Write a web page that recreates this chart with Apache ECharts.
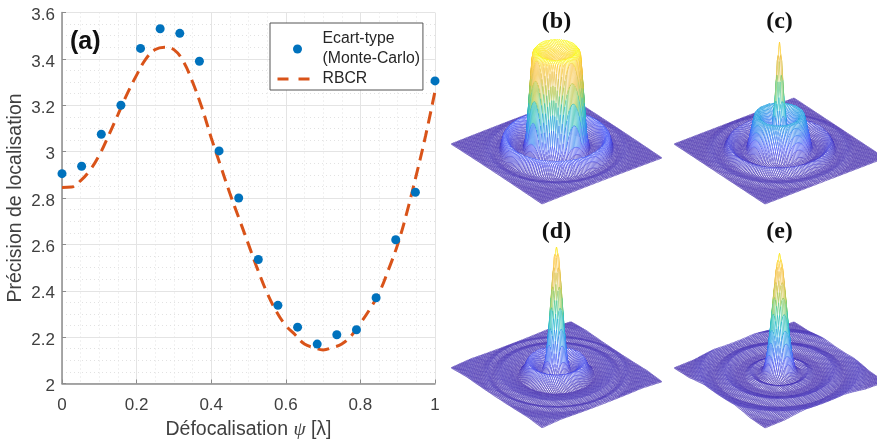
<!DOCTYPE html>
<html>
<head>
<meta charset="utf-8">
<style>html,body{margin:0;padding:0;background:#fff}#c{width:877px;height:441px}</style>
<script src="https://cdn.jsdelivr.net/npm/echarts@6/dist/echarts.min.js"></script>
</head>
<body>
<div id="c"></div>
<script>
// Panel (a) values
const monteCarloX = [0,0.0526,0.1053,0.1579,0.2105,0.2632,0.3158,0.3684,0.4211,0.4737,0.5263,0.5789,0.6316,0.6842,0.7368,0.7895,0.8421,0.8947,0.9474,1];
const monteCarloY = [2.905,2.937,3.075,3.2,3.445,3.53,3.51,3.39,3.003,2.8,2.535,2.337,2.243,2.17,2.21,2.232,2.37,2.62,2.825,3.305];
const rbcrX = [0,0.025,0.05,0.075,0.1,0.125,0.15,0.175,0.2,0.225,0.25,0.275,0.3,0.325,0.35,0.375,0.4,0.425,0.45,0.475,0.5,0.525,0.55,0.575,0.6,0.625,0.65,0.675,0.7,0.725,0.75,0.775,0.8,0.825,0.85,0.875,0.9,0.925,0.95,0.975,1];
const rbcrY = [2.845,2.847,2.875,2.92,2.985,3.07,3.16,3.25,3.33,3.4,3.44,3.45,3.44,3.39,3.3,3.19,3.06,2.94,2.82,2.71,2.6,2.49,2.39,2.31,2.25,2.21,2.17,2.155,2.145,2.155,2.17,2.205,2.26,2.32,2.39,2.49,2.6,2.74,2.9,3.07,3.26];

// Panels (b)-(e): radial profile of each surface
const radiusB = [0,0.2,0.28,0.32,0.36,0.4,0.44,0.5,0.6,0.67,0.71,0.75,0.82,0.9,1,1.45];
const heightB = [0.7,0.74,0.79,0.76,0.45,0.12,0.015,0.01,0.05,0.12,0.1,0.012,0.004,0.012,0.004,0];
const radiusC = [0,0.03,0.06,0.1,0.14,0.2,0.28,0.33,0.38,0.43,0.5,0.6,0.68,0.74,0.8,0.9,1,1.45];
const heightC = [0.85,0.7,0.4,0.18,0.14,0.2,0.28,0.28,0.15,0.02,0.01,0.03,0.07,0.01,0.005,0.012,0,0];
const radiusD = [0,0.03,0.06,0.1,0.14,0.18,0.25,0.32,0.38,0.43,0.5,0.55,0.65,0.75,0.85,0.92,1,1.2,1.45];
const heightD = [1,0.92,0.7,0.38,0.13,0.04,0.05,0.09,0.11,0.05,0,0.006,0.014,0.02,0.006,0.016,0.006,0.012,0];
const radiusE = [0,0.04,0.08,0.12,0.16,0.2,0.24,0.3,0.38,0.46,0.58,0.72,0.86,1.05,1.2,1.45];
const heightE = [0.95,0.85,0.62,0.37,0.18,0.06,0.02,0.006,0.026,0.004,0.004,0.026,0.004,0.026,0.004,0];
const panelLabels = ['(b)','(c)','(d)','(e)'];

const axisGray = '#8c8c8c', textGray = '#404040';
const MESH = 100;
const UNIT_U = [45.5,-30], UNIT_V = [60,23], HEIGHT_PX = 128;
const parula = [[62,38,168],[72,82,244],[42,125,240],[18,177,214],[55,200,151],[171,199,57],[230,186,64],[254,195,59],[249,251,21]];
function parulaColor(t){
  t = Math.max(0,Math.min(1,t))*(parula.length-1);
  const i = Math.min(parula.length-2,Math.floor(t)), f = t-i, a = parula[i], b = parula[i+1];
  return 'rgb('+[0,1,2].map(k=>Math.round(a[k]+(b[k]-a[k])*f)).join(',')+')';
}
function profileAt(rs,hs,r){
  for(let i=1;i<rs.length;i++){ if(r<=rs[i]){ const f=(r-rs[i-1])/(rs[i]-rs[i-1]); return hs[i-1]+(hs[i]-hs[i-1])*f; } }
  return hs[hs.length-1];
}
function buildGrid(rs,hs){
  const g=[],n=MESH;
  for(let i=0;i<=n;i++){ g.push([]); for(let j=0;j<=n;j++){ g[i].push(profileAt(rs,hs,Math.hypot(-1+2*i/n,-1+2*j/n))); } }
  return g;
}
function surfaceSeries(idx,rs,hs){
  const g = buildGrid(rs,hs), peak = Math.max(...hs), n = MESH, data = [];
  for(let i=0;i<n;i++) for(let j=n-1;j>=0;j--) data.push([i,j]);
  const proj=(api,i,j)=>{
    const u=-1+2*i/n, v=-1+2*j/n;
    return api.coord([u*UNIT_U[0]+v*UNIT_V[0], u*UNIT_U[1]+v*UNIT_V[1]+g[i][j]*HEIGHT_PX]);
  };
  return {
    type:'custom', xAxisIndex:idx+1, yAxisIndex:idx+1, silent:true, animation:false, progressive:0,
    clip:false, data, encode:{x:0,y:1}, legendHoverLink:false,
    renderItem(params,api){
      const i=api.value(0), j=api.value(1);
      const z=(g[i][j]+g[i+1][j]+g[i][j+1]+g[i+1][j+1])/4;
      return {type:'polygon',shape:{points:[proj(api,i,j),proj(api,i+1,j),proj(api,i+1,j+1),proj(api,i,j+1)]},
        style:{fill:'#fff',stroke:parulaColor(z/peak),lineWidth:0.5}};
    }
  };
}
const centers=[[556.5,151],[779.5,151],[556.5,375],[779.5,375]];
const grids=[{left:62,top:12.5,width:373,height:371,outerBoundsMode:'none'}], xAxes=[{
  type:'value',min:0,max:1,interval:0.2,gridIndex:0,
  name:'Défocalisation {p|ψ} [λ]',nameLocation:'middle',nameGap:36,
  nameTextStyle:{fontFamily:'Liberation Sans',fontSize:19.5,color:textGray,rich:{p:{fontFamily:'Liberation Serif',fontStyle:'italic',fontSize:19.5,color:textGray}}},
  axisLine:{lineStyle:{color:axisGray,width:1.5}},axisTick:{inside:true,length:4,lineStyle:{color:axisGray}},
  axisLabel:{fontFamily:'Liberation Sans',fontSize:17,color:textGray,margin:13,hideOverlap:false},
  splitLine:{show:true,lineStyle:{color:'#e4e4e4',width:1}},
  minorTick:{show:false,splitNumber:4},minorSplitLine:{show:true,lineStyle:{color:'#e2e2e2',type:[1,3],width:1}}
}], yAxes=[{
  type:'value',min:2,max:3.6,interval:0.2,gridIndex:0,
  name:'Précision de localisation',nameLocation:'middle',nameGap:36,
  nameTextStyle:{fontFamily:'Liberation Sans',fontSize:19.5,color:textGray},
  axisLine:{show:true,lineStyle:{color:axisGray,width:1.5}},axisTick:{show:true,inside:true,length:4,lineStyle:{color:axisGray}},
  axisLabel:{fontFamily:'Liberation Sans',fontSize:17,color:textGray,margin:7,verticalAlign:'top',lineHeight:6,hideOverlap:false},
  splitLine:{show:true,lineStyle:{color:'#e4e4e4',width:1}},
  minorTick:{show:false,splitNumber:4},minorSplitLine:{show:true,lineStyle:{color:'#e2e2e2',type:[1,3],width:1}}
}];
centers.forEach(c=>{
  grids.push({left:c[0]-115,top:c[1]-140,width:230,height:210,outerBoundsMode:'none'});
  xAxes.push({type:'value',gridIndex:grids.length-1,min:-115,max:115,show:false});
  yAxes.push({type:'value',gridIndex:grids.length-1,min:-70,max:140,show:false});
});
const titles=[{text:'(a)',left:70,top:30,textStyle:{fontFamily:'Liberation Sans',fontWeight:'bold',fontSize:25,color:'#111'},padding:0}];
panelLabels.forEach((t,i)=>titles.push({text:t,left:centers[i][0],top:i<2?10:220,textAlign:'center',padding:0,
  textStyle:{fontFamily:'Liberation Serif',fontWeight:'bold',fontSize:24,color:'#111'}}));

const chart=echarts.init(document.getElementById('c'),null,{renderer:'canvas'});
chart.setOption({
  animation:false,backgroundColor:'#fff',title:titles,grid:grids,xAxis:xAxes,yAxis:yAxes,
  legend:{data:[{name:'Ecart-type\n(Monte-Carlo)'},{name:'RBCR',itemStyle:{color:'transparent',opacity:0},lineStyle:{color:'#d95319',width:3,type:[11,10]}}],
    orient:'vertical',left:270,top:23,z:20,
    backgroundColor:'#fff',borderColor:'#555',borderWidth:1,borderRadius:0,padding:[6,3,1,6],itemGap:0,itemWidth:40,itemHeight:9,
    textStyle:{fontFamily:'Liberation Sans',fontSize:15.8,color:'#262626',lineHeight:20}},
  series:[
    surfaceSeries(0,radiusB,heightB),surfaceSeries(1,radiusC,heightC),surfaceSeries(2,radiusD,heightD),surfaceSeries(3,radiusE,heightE),
    {type:'line',name:'RBCR',xAxisIndex:0,yAxisIndex:0,data:rbcrX.map((x,i)=>[x,rbcrY[i]]),smooth:0.4,showSymbol:false,symbol:'none',z:5,
      lineStyle:{color:'#d95319',width:3,type:[12,7]},itemStyle:{color:'#d95319'}},
    {type:'scatter',name:'Ecart-type\n(Monte-Carlo)',xAxisIndex:0,yAxisIndex:0,data:monteCarloX.map((x,i)=>[x,monteCarloY[i]]),symbol:'circle',symbolSize:9,clip:false,z:6,
      itemStyle:{color:'#0072bd',opacity:1}}
  ]
});
</script>
</body>
</html>
